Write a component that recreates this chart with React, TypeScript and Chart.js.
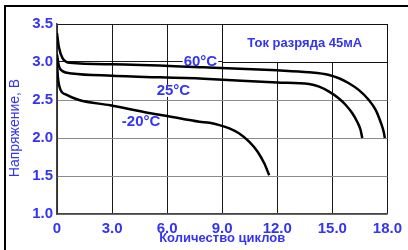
import React, { useEffect, useRef } from "react";
import { Chart, registerables } from "chart.js";

Chart.register(...registerables);

const xTickLabels = ["0", "3.0", "6.0", "9.0", "12.0", "15.0", "18.0"];
const yTickLabels = ["1.0", "1.5", "2.0", "2.5", "3.0", "3.5"];

const x60 = [0, 0.1, 0.3, 0.7, 3, 8, 12, 13.73, 14.82, 15.36, 15.9, 16.45, 16.99, 17.36, 17.63, 17.8, 17.86];
const y60 = [3.38, 3.2, 3.05, 2.99, 2.97, 2.93, 2.89, 2.865, 2.83, 2.786, 2.72, 2.63, 2.5, 2.37, 2.21, 2.08, 2.0];

const x25 = [0, 0.1, 0.3, 0.8, 3, 8, 12, 13.73, 14.28, 14.82, 15.36, 15.73, 16.09, 16.36, 16.54, 16.63];
const y25 = [3.1, 2.95, 2.88, 2.85, 2.82, 2.78, 2.73, 2.71, 2.675, 2.61, 2.52, 2.434, 2.325, 2.21, 2.105, 2.0];

const xM20 = [0, 0.05, 0.2, 0.5, 1.2, 2.9, 5, 6, 7.76, 8.31, 8.85, 9.39, 9.93, 10.48, 10.93, 11.29, 11.56];
const yM20 = [3.0, 2.8, 2.63, 2.57, 2.5, 2.43, 2.33, 2.29, 2.215, 2.2, 2.17, 2.127, 2.06, 1.95, 1.82, 1.667, 1.51];

const seriesNames = ["60°C", "25°C", "-20°C"];
const legendText = "Ток разряда 45мА";
const xTitle = "Количество циклов";
const yTitle = "Напряжение, В";

const BLUE = "#3434f4";
const FONT = "'Liberation Sans', Arial, sans-serif";

function pts(xs: number[], ys: number[]) {
  return xs.map((x, i) => ({ x, y: ys[i] }));
}

export default function App() {
  const ref = useRef<HTMLCanvasElement | null>(null);
  useEffect(() => {
    document.body.style.margin = "0";
    const canvas = ref.current!;
    const labelAnchors = [
      { x: 6.9, y: 3.0 },
      { x: 5.43, y: 2.62 },
      { x: 3.53, y: 2.21 },
    ];
    const decor = {
      id: "decor",
      beforeDatasetsDraw(chart: any) {
        const { ctx, scales } = chart;
        const xs = scales.x, ys = scales.y;
        ctx.save();
        const bx0 = xs.getPixelForValue(9), bx1 = xs.getPixelForValue(18);
        const by0 = ys.getPixelForValue(3.5), by1 = ys.getPixelForValue(3.0);
        ctx.fillStyle = "#fff";
        ctx.fillRect(bx0, by0, bx1 - bx0, by1 - by0);
        ctx.strokeStyle = "#111";
        ctx.lineWidth = 1;
        ctx.strokeRect(Math.round(bx0) + 0.5, Math.round(by0) + 0.5, Math.round(bx1 - bx0), Math.round(by1 - by0));
        ctx.fillStyle = BLUE;
        ctx.font = `bold 13px ${FONT}`;
        ctx.textAlign = "center";
        ctx.textBaseline = "middle";
        ctx.fillText(legendText, (bx0 + bx1) / 2, (by0 + by1) / 2);
        ctx.font = `bold 15px ${FONT}`;
        ctx.textAlign = "left";
        seriesNames.forEach((n, i) => {
          const px = xs.getPixelForValue(labelAnchors[i].x);
          const py = ys.getPixelForValue(labelAnchors[i].y);
          const w = ctx.measureText(n).width;
          ctx.fillStyle = "#fff";
          ctx.fillRect(px - 1, py - 6, w + 2, 12);
          ctx.fillStyle = BLUE;
          ctx.fillText(n, px, py);
        });
        ctx.restore();
      },
      afterDraw(chart: any) {
        const { ctx, chartArea } = chart;
        ctx.save();
        ctx.fillStyle = BLUE;
        ctx.font = `bold 13px ${FONT}`;
        ctx.textAlign = "center";
        ctx.textBaseline = "middle";
        ctx.fillText(xTitle, (chartArea.left + chartArea.right) / 2, 238);
        ctx.translate(15, 128);
        ctx.rotate(-Math.PI / 2);
        ctx.font = `14px ${FONT}`;
        ctx.fillText(yTitle, 0, 0);
        ctx.restore();
        ctx.save();
        ctx.fillStyle = "#000";
        ctx.fillRect(4, 5, 404, 2);
        ctx.fillRect(4, 5, 2, 245);
        ctx.restore();
      },
    };
    const mk = (data: any[]) => ({
      data,
      borderColor: "#000",
      borderWidth: 2.5,
      pointRadius: 0,
      fill: false,
      cubicInterpolationMode: "monotone" as const,
    });
    const chart = new Chart(canvas, {
      type: "line",
      data: {
        datasets: [mk(pts(x60, y60)), mk(pts(x25, y25)), mk(pts(xM20, yM20))],
      },
      options: {
        animation: false,
        responsive: false,
        maintainAspectRatio: false,
        layout: { padding: { left: 0, right: 20, top: 24, bottom: 0 } },
        plugins: { legend: { display: false }, tooltip: { enabled: false } },
        scales: {
          x: {
            type: "linear",
            min: 0,
            max: 18,
            afterBuildTicks(s: any) {
              s.ticks = xTickLabels.map((_, i) => ({ value: i * 3 }));
            },
            afterFit(s: any) {
              s.height = 36;
            },
            ticks: {
              color: BLUE,
              font: { family: FONT, size: 15, weight: "bold" },
              padding: 6,
              maxRotation: 0,
              callback: (_v: any, i: number) => xTickLabels[i],
            },
            grid: { color: "#1a1a1a", lineWidth: 1, drawTicks: false },
            border: { color: "#444", width: 1.5 },
          },
          y: {
            type: "linear",
            min: 1,
            max: 3.5,
            afterBuildTicks(s: any) {
              s.ticks = yTickLabels.map((_, i) => ({ value: 1 + i * 0.5 }));
            },
            afterFit(s: any) {
              s.width = 57;
            },
            ticks: {
              color: BLUE,
              font: { family: FONT, size: 15, weight: "bold" },
              padding: 4,
              callback: (_v: any, i: number) => yTickLabels[i],
            },
            grid: {
              drawTicks: false,
              lineWidth: 1,
              color: (c: any) => {
                const v = c.tick && c.tick.value;
                if (v === 3 || v === 3.5) return "#1a1a1a";
                return "#8a8a8a";
              },
            },
            border: { color: "#444", width: 1.5 },
          },
        },
      },
      plugins: [decor],
    } as any);
    return () => chart.destroy();
  }, []);
  return (
    <div style={{ position: "absolute", left: 0, top: 0, width: 408, height: 250, background: "#fff" }}>
      <canvas ref={ref} width={408} height={250} style={{ display: "block", width: 408, height: 250 }} />
    </div>
  );
}
